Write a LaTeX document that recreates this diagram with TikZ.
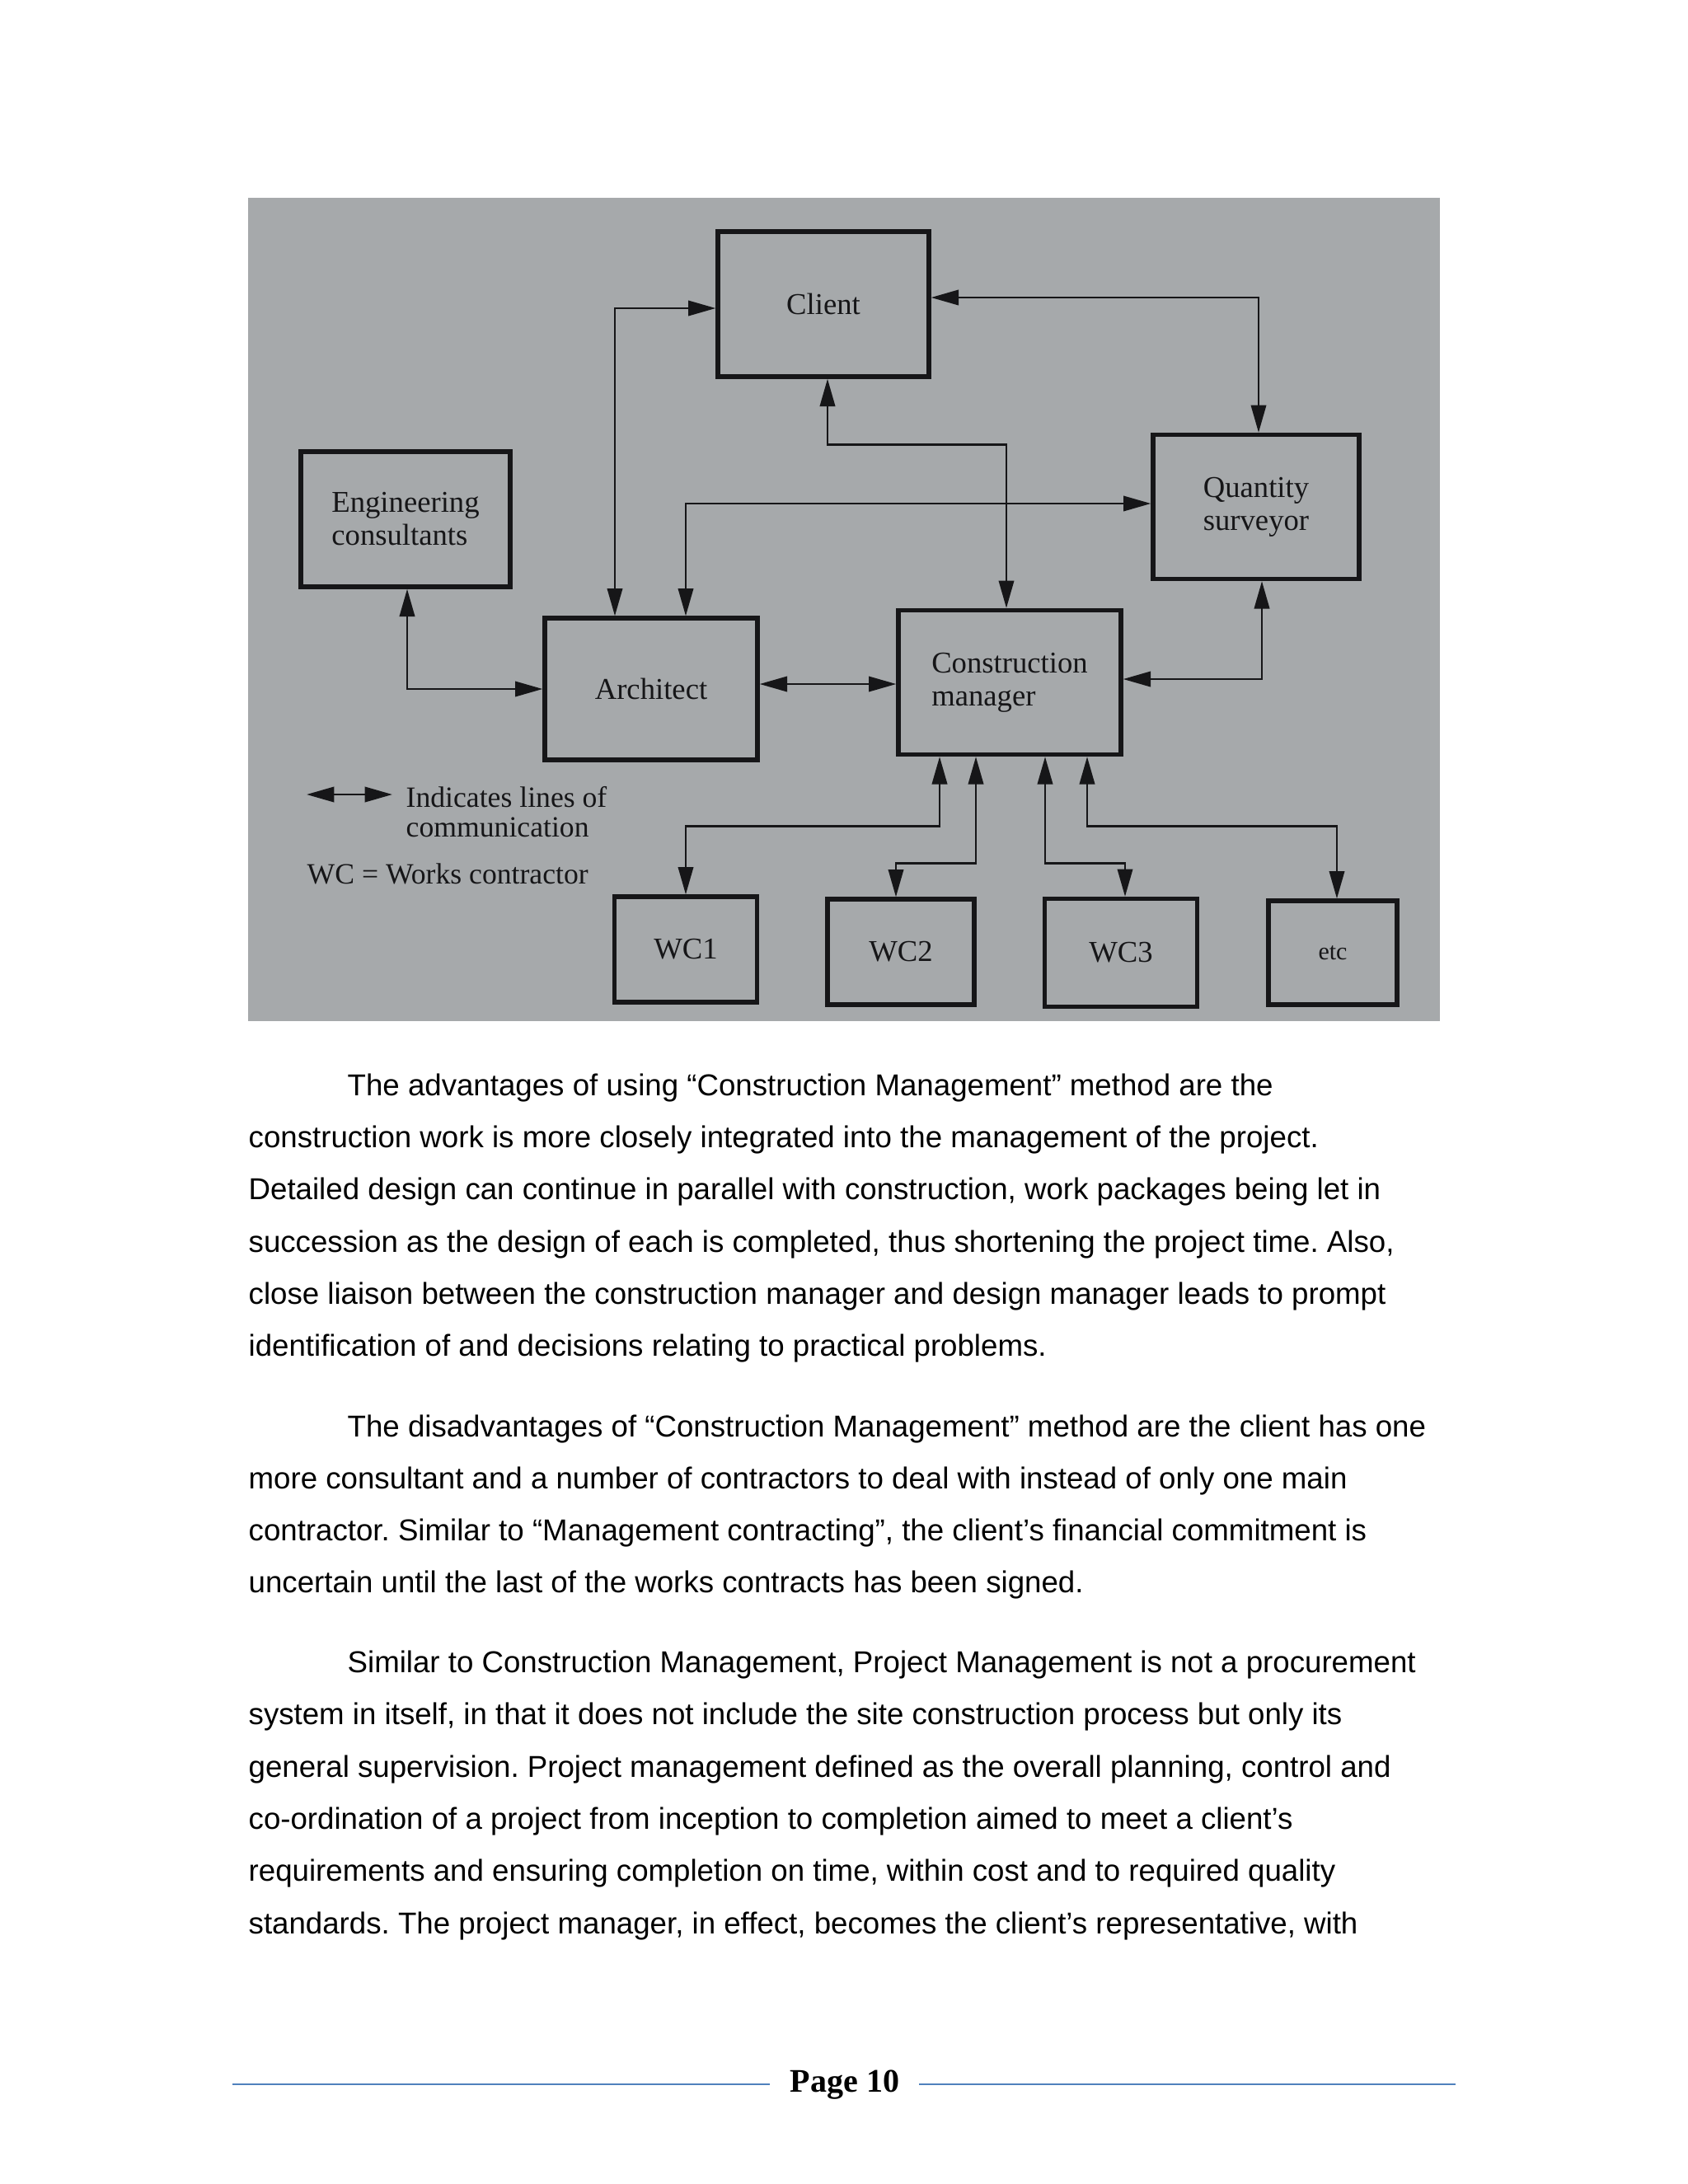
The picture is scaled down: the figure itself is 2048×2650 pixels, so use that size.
\documentclass[tikz,border=0pt]{standalone}
\usepackage{fontspec}
\setmainfont{Liberation Sans}
\newfontfamily\diagfont{Liberation Serif}
\usetikzlibrary{arrows.meta}
\definecolor{photo}{RGB}{166,169,171}
\definecolor{ink}{RGB}{22,22,24}
\definecolor{rulecol}{RGB}{79,129,189}
\frenchspacing
\begin{document}
\begin{tikzpicture}[x=0.3pt,y=-0.3pt,
  box/.style={draw=ink, line width=1.6pt, inner sep=0pt, align=left, text=ink,
              font=\diagfont\fontsize{11}{12}\selectfont},
  com/.style={draw=ink, line width=0.8pt,
              {Triangle[length=10pt,width=5.5pt]}-{Triangle[length=10pt,width=5.5pt]}},
  body/.style={anchor=base west, inner sep=0pt, font=\fontsize{11}{13}\selectfont},
  legend/.style={anchor=west, inner sep=0pt, align=left, text=ink,
                 font=\diagfont\fontsize{10.7}{10.8}\selectfont}]
\useasboundingbox (0,0) rectangle (2048,2650);
\fill[white] (0,0) rectangle (2048,2650);
% photo background
\fill[photo] (301,240) rectangle (1747,1239);

% boxes
\node[box, minimum width=76.8pt, minimum height=52.8pt] (client) at (999,369) {Client};
\node[box, minimum width=75pt, minimum height=52.5pt] (qs) at (1524,615) {Quantity\\surveyor};
\node[box, minimum width=76.2pt, minimum height=49.2pt] (eng) at (492,630) {Engineering\\consultants};
\node[box, minimum width=77.4pt, minimum height=51.6pt] (arch) at (790,836) {Architect};
\node[box, minimum width=81pt, minimum height=52.5pt] (cm) at (1225,828) {Construction\\manager};
\node[box, minimum width=51.9pt, minimum height=38.4pt] (wc1) at (832,1152) {WC1};
\node[box, minimum width=53.4pt, minimum height=38.4pt] (wc2) at (1093,1155) {WC2};
\node[box, minimum width=55.5pt, minimum height=39.3pt] (wc3) at (1360,1156) {WC3};
\node[box, minimum width=46.8pt, minimum height=37.8pt, font=\diagfont\fontsize{9}{10}\selectfont] (etc) at (1617,1156) {etc};

% connectors
\draw[com] ([yshift=-1.5pt]client.west) -| ([xshift=-13.2pt]arch.north);
\draw[com] ([yshift=2.4pt]client.east) -| ([xshift=0.9pt]qs.north);
\draw[com] ([xshift=1.5pt]client.south) -- ++(0,80) -| ([xshift=-1.2pt]cm.north);
\draw[com] ([xshift=12.6pt]arch.north) |- ([yshift=1.2pt]qs.west);
\draw[com] ([xshift=0.6pt]eng.south) |- (arch.west);
\draw[com] ([yshift=1.8pt]arch.east) -- ([yshift=1.8pt]arch.east -| cm.west);
\draw[com] ([xshift=2.1pt]qs.south) |- ([yshift=1.2pt]cm.east);
\draw[com] ([xshift=-25.5pt]cm.south) -- ++(0,84) -| (wc1.north);
\draw[com] ([xshift=-12.3pt]cm.south) -- ++(0,129) -| ([xshift=-1.8pt]wc2.north);
\draw[com] ([xshift=12.9pt]cm.south) -- ++(0,129) -| ([xshift=1.5pt]wc3.north);
\draw[com] ([xshift=28.2pt]cm.south) -- ++(0,84) -| ([xshift=1.5pt]etc.north);

% legend
\coordinate (la) at (372,964);
\coordinate (lb) at (476,964);
\draw[com] (la) -- (lb);
\node[legend] (leg1) at (492,985) {Indicates lines of\\communication};
\node[legend] (leg2) at (372,1060) {WC = Works contractor};

% body text
\node[body] (p1a) at (421,1329) {The advantages of using “Construction Management” method are the};
\node[body] (p1b) at (301,1392) {construction work is more closely integrated into the management of the project.};
\node[body] (p1c) at (301,1455) {Detailed design can continue in parallel with construction, work packages being let in};
\node[body] (p1d) at (301,1519) {succession as the design of each is completed, thus shortening the project time. Also,};
\node[body] (p1e) at (301,1582) {close liaison between the construction manager and design manager leads to prompt};
\node[body] (p1f) at (301,1645) {identification of and decisions relating to practical problems.};

\node[body] (p2a) at (421,1743) {The disadvantages of “Construction Management” method are the client has one};
\node[body] (p2b) at (301,1806) {more consultant and a number of contractors to deal with instead of only one main};
\node[body] (p2c) at (301,1869) {contractor. Similar to “Management contracting”, the client’s financial commitment is};
\node[body] (p2d) at (301,1932) {uncertain until the last of the works contracts has been signed.};

\node[body] (p3a) at (421,2029) {Similar to Construction Management, Project Management is not a procurement};
\node[body] (p3b) at (301,2092) {system in itself, in that it does not include the site construction process but only its};
\node[body] (p3c) at (301,2156) {general supervision. Project management defined as the overall planning, control and};
\node[body] (p3d) at (301,2219) {co-ordination of a project from inception to completion aimed to meet a client’s};
\node[body] (p3e) at (301,2282) {requirements and ensuring completion on time, within cost and to required quality};
\node[body] (p3f) at (301,2346) {standards. The project manager, in effect, becomes the client’s representative, with};

% footer
\node[inner sep=0pt, font=\diagfont\bfseries\fontsize{12}{14}\selectfont] (page) at (1025,2530) {Page 10};
\draw[rulecol, line width=0.7pt] (282,2529) -- (934,2529);
\draw[rulecol, line width=0.7pt] (1115,2529) -- (1766,2529);
\end{tikzpicture}
\end{document}
